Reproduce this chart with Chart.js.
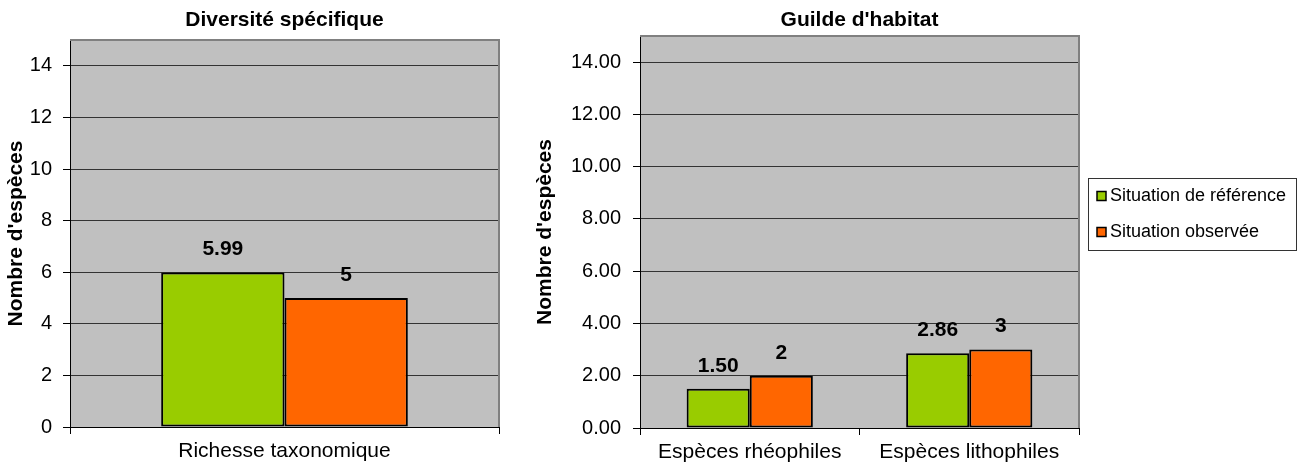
<!DOCTYPE html>
<html>
<head>
<meta charset="utf-8">
<script src="https://cdn.jsdelivr.net/npm/chart.js@4.4.1/dist/chart.umd.min.js"></script>
<style>
  body { margin: 0; background: #fff; }
  #wrap { position: relative; width: 1301px; height: 466px; }
  canvas { position: absolute; top: 0; }
</style>
</head>
<body>
<div id="wrap">
  <canvas id="leftChart" width="520" height="466" style="left:0"></canvas>
  <canvas id="rightChart" width="781" height="466" style="left:520px"></canvas>
</div>
<script>
// Data
const leftCategories = ["Richesse taxonomique"];
const leftReference = [5.99];
const leftObserved = [5];

const rightCategories = ["Espèces rhéophiles", "Espèces lithophiles"];
const rightReference = [1.50, 2.86];
const rightObserved = [2, 3];

const seriesLabels = ["Situation de référence", "Situation observée"];
const yTitle = "Nombre d'espèces";

const FONT = "'Liberation Sans', Arial, sans-serif";
const GREEN = "#99CC00";
const ORANGE = "#FF6600";

// plot background + grey frame on top / right
const plotFrame = {
  id: "plotFrame",
  beforeDraw(chart) {
    const { ctx, chartArea: a } = chart;
    ctx.save();
    ctx.fillStyle = "#C0C0C0";
    ctx.fillRect(a.left, a.top, a.right - a.left, a.bottom - a.top);
    ctx.restore();
  },
  beforeDatasetsDraw(chart) {
    const { ctx, chartArea: a } = chart;
    ctx.save();
    ctx.strokeStyle = "#808080";
    ctx.lineWidth = 2;
    ctx.beginPath();
    ctx.moveTo(a.left, a.top);
    ctx.lineTo(a.right, a.top);
    ctx.lineTo(a.right, a.bottom);
    ctx.stroke();
    ctx.restore();
  }
};

// centred title over the plot area
const plotTitle = {
  id: "plotTitle",
  afterDraw(chart, args, opts) {
    const { ctx, chartArea: a } = chart;
    ctx.save();
    ctx.font = "bold 21px " + FONT;
    ctx.fillStyle = "#000";
    ctx.textAlign = "center";
    ctx.textBaseline = "middle";
    ctx.fillText(opts.text, (a.left + a.right) / 2, opts.y);
    ctx.restore();
  }
};

// numbers above bars
const valueLabels = {
  id: "valueLabels",
  afterDatasetsDraw(chart) {
    const { ctx } = chart;
    ctx.save();
    ctx.font = "bold 21px " + FONT;
    ctx.fillStyle = "#000";
    ctx.textAlign = "center";
    ctx.textBaseline = "middle";
    chart.data.datasets.forEach((ds, i) => {
      chart.getDatasetMeta(i).data.forEach((bar, j) => {
        const v = ds.data[j];
        const txt = ds.decimals ? v.toFixed(ds.decimals) : String(v);
        ctx.fillText(txt, bar.x, bar.y - 23);
      });
    });
    ctx.restore();
  }
};

// boxed legend at the right of the second chart
const boxLegend = {
  id: "boxLegend",
  afterDraw(chart) {
    const { ctx } = chart;
    const x = 568, y = 178, w = 208, h = 72;
    ctx.save();
    ctx.strokeStyle = "#333";
    ctx.lineWidth = 1;
    ctx.strokeRect(x + 0.5, y + 0.5, w, h);
    ctx.font = "18px " + FONT;
    ctx.textBaseline = "middle";
    chart.data.datasets.forEach((ds, i) => {
      const cy = 196 + i * 36;
      ctx.fillStyle = ds.backgroundColor;
      ctx.fillRect(x + 9, cy - 4.5, 9, 9);
      ctx.strokeStyle = "#000";
      ctx.lineWidth = 1.5;
      ctx.strokeRect(x + 9, cy - 4.5, 9, 9);
      ctx.fillStyle = "#000";
      ctx.fillText(ds.label, x + 22, cy);
    });
    ctx.restore();
  }
};

function makeChart(id, cfg) {
  const datasets = [
    { label: seriesLabels[0], data: cfg.ref, backgroundColor: GREEN, decimals: 2 },
    { label: seriesLabels[1], data: cfg.obs, backgroundColor: ORANGE, decimals: 0 }
  ].map(d => Object.assign(d, {
    borderColor: "#000",
    borderWidth: 2,
    borderSkipped: false,
    categoryPercentage: 0.575,
    barPercentage: 1
  }));

  const plugins = [plotFrame, plotTitle, valueLabels];
  if (cfg.legend) plugins.push(boxLegend);

  return new Chart(document.getElementById(id), {
    type: "bar",
    data: { labels: cfg.labels, datasets: datasets },
    plugins: plugins,
    options: {
      responsive: false,
      animation: false,
      devicePixelRatio: 1,
      layout: { padding: { top: cfg.top, left: cfg.padLeft, right: cfg.padRight, bottom: 0 } },
      plugins: {
        legend: { display: false },
        title: { display: false },
        tooltip: { enabled: false },
        plotTitle: { text: cfg.title, y: 20 }
      },
      scales: {
        x: {
          afterFit(scale) { scale.height = cfg.xHeight; },
          grid: { offset: true, drawOnChartArea: false, drawTicks: true, tickLength: 7, tickColor: "#000" },
          border: { color: "#000", width: 1 },
          ticks: { color: "#000", padding: 5, font: { family: FONT, size: 21 } }
        },
        y: {
          min: 0,
          max: 15,
          afterFit(scale) { scale.width = cfg.yWidth; },
          grid: { color: "#333", lineWidth: 1, tickLength: 7, tickColor: "#000" },
          border: { color: "#000", width: 1 },
          ticks: {
            stepSize: 2,
            includeBounds: false,
            color: "#000",
            padding: cfg.tickPad,
            font: { family: FONT, size: 20 },
            callback: v => cfg.fixed ? v.toFixed(2) : String(v)
          },
          title: {
            display: true,
            text: yTitle,
            color: "#000",
            padding: 0,
            font: { family: FONT, size: 21, weight: "bold" }
          }
        }
      }
    }
  });
}

makeChart("leftChart", {
  labels: leftCategories, ref: leftReference, obs: leftObserved,
  title: "Diversité spécifique",
  top: 40, padLeft: 4, padRight: 21, yWidth: 66, xHeight: 39, tickPad: 11, fixed: false
});

makeChart("rightChart", {
  labels: rightCategories, ref: rightReference, obs: rightObserved,
  title: "Guilde d'habitat",
  top: 36, padLeft: 13, padRight: 222, yWidth: 107, xHeight: 38, tickPad: 12, fixed: true,
  legend: true
});
</script>
</body>
</html>
